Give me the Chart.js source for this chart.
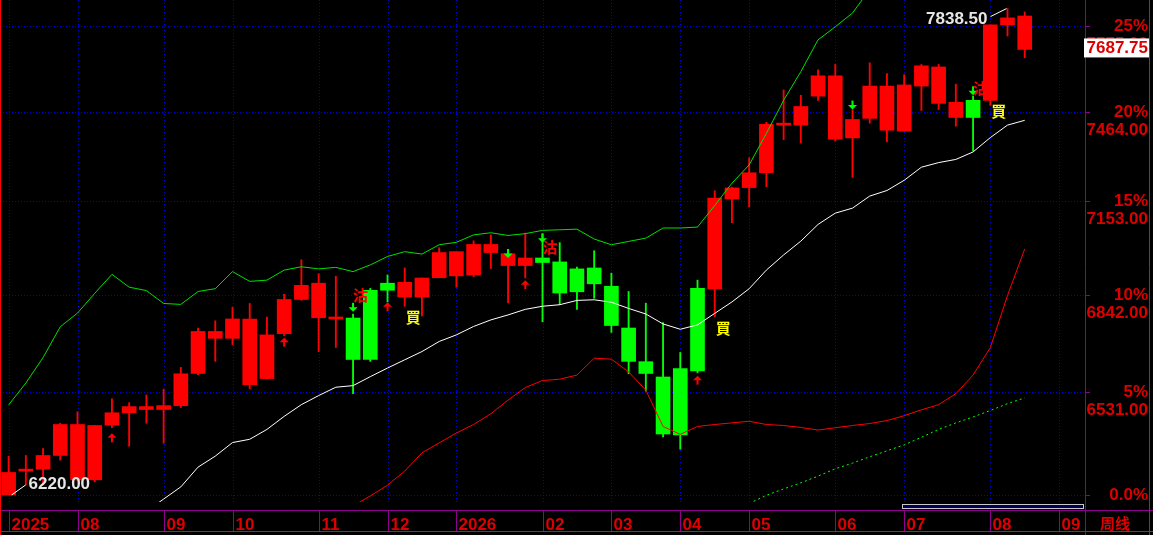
<!DOCTYPE html>
<html>
<head>
<meta charset="utf-8">
<script src="https://cdn.jsdelivr.net/npm/chart.js@4.4.1/dist/chart.umd.min.js"></script>
<style>
html,body{margin:0;padding:0;background:#000;overflow:hidden;}
#wrap{width:1153px;height:535px;}
</style>
</head>
<body>
<div id="wrap"><canvas id="kline" width="1153" height="535"></canvas></div>
<script>
// 周线 K 线 (60 根), 价格从图上读取
const opens  = [6220,6291,6297,6338,6265,6265,6430,6468,6478,6478,6490,6590,6701,6701,6555,6574,6716,6826,6767,6763,
                6766,6856,6879,6834,6834,6897,6903,6906,6980,6937,6937,6962,6949,6926,6929,6869,6734,6627,6579,6605,
                6862,6860,7160,7199,7250,7416,7416,7519,7367,7371,7440,7398,7395,7555,7493,7443,7504,7504,7778,7811];
const highs  = [6336,6338,6359,6436,6471,6429,6511,6499,6523,6541,6609,6734,6757,6801,6813,6769,6843,6956,6910,6902,
                6779,6862,6906,6929,6896,6996,6983,7019,7039,6976,7045,7043,7013,6932,6986,6912,6852,6814,6751,6656,
                6889,7188,7201,7302,7426,7541,7522,7614,7633,7471,7639,7600,7596,7633,7633,7562,7519,7778,7838.5,7826];
const lows   = [6220,6250,6250,6324,6262,6259,6422,6366,6436,6375,6484,6586,6628,6681,6542,6573,6709,6823,6659,6672,
                6527,6628,6818,6804,6773,6897,6866,6900,6927,6815,6896,6754,6809,6794,6830,6720,6589,6535,6394,6357,
                6592,6770,7080,7134,7202,7365,7353,7504,7360,7234,7423,7357,7395,7468,7471,7412,7326,7486,7737,7657];
const closes = [6287,6296,6338,6432,6432,6429,6468,6487,6487,6490,6589,6723,6723,6763,6763,6712,6826,6872,6879,6767,
                6634,6634,6856,6882,6896,6980,6983,7007,7007,6976,6962,6947,6847,6851,6877,6742,6628,6590,6403,6400,
                6598,7163,7198,7250,7419,7421,7482,7592,7592,7436,7555,7555,7559,7628,7624,7497,7443,7778,7804,7687.75];
// 多空状态: R 红 (多), G 绿 (空)
const trend  = ['R','R','R','R','R','R','R','R','R','R','R','R','R','R','R','R','R','R','R','R',
                'G','G','G','R','R','R','R','R','R','R','R','G','G','G','G','G','G','G','G','G',
                'G','R','R','R','R','R','R','R','R','R','R','R','R','R','R','R','G','R','R','R'];

// 通道线
const upperBand = [6492,6560,6640,6738,6782,6846,6908,6866,6855,6813,6810,6852,6861,6917,6885,6889,6922,6933,6926,6931,
                   6917,6939,6967,6983,6975,7006,7014,7039,7046,7037,7043,7054,7056,7058,7025,7006,7017,7028,7062,7062,
                   7065,7138,7214,7277,7387,7504,7607,7723,7771,7822,7910,null,null,null,null,null,null,null,null,null];
const midLine   = [null,null,null,null,null,null,null,null,6172,6208,6244,6303,6336,6377,6387,6417,6457,6493,6521,6547,
                   6552,6580,6607,6633,6659,6691,6712,6739,6760,6776,6794,6804,6809,6823,6825,6817,6797,6779,6747,6730,
                   6744,6781,6818,6861,6922,6972,7018,7074,7112,7129,7170,7189,7224,7269,7285,7296,7322,7372,7416,7433];
const lowerBand = [null,null,null,null,null,null,null,null,null,null,null,null,null,null,null,null,null,null,null,null,
                   6188,6217,6249,6291,6346,6376,6406,6432,6465,6507,6546,6568,6572,6585,6638,6635,6595,6538,6426,6402,
                   6426,6432,6437,6442,6432,6429,6423,6415,6422,6429,6435,6444,6459,6477,6493,6527,6585,6671,6839,6992];
const trendLine = [null,null,null,null,null,null,null,null,null,null,null,null,null,null,null,null,null,null,null,null,
                   null,null,null,null,null,null,null,null,null,null,null,null,null,null,null,null,null,null,null,null,
                   null,null,null,6195,6219,6238,6256,6276,6298,6315,6334,6352,6370,6393,6417,6437,6455,6475,6496,6514];

// 信号
const upArrowIdx     = [6,16,22,30,40];
const upArrowPrice   = [6405,6703,6817,6889,6583];
const downArrowIdx   = [20,29,31,49,56];
const downArrowPrice = [6786,6962,7013,7471,7522];
const sellIdx   = [20,31,56];
const sellPrice = [6840,6998,7546];
const buyIdx    = [23,41,57];
const buyPrice  = [6769,6733,7464];

// 坐标轴
const slotCount   = 63;
const months      = ['2025','08','09','10','11','12','2026','02','03','04','05','06','07','08','09'];
const monthStart  = [0,4,9,13,18,22,26,31,35,39,43,48,52,57,61];
const pctLabels   = ['0.0%','5%','10%','15%','20%','25%'];
const levelPrices = [6220,6531,6842,7153,7464,7775];
const yMin = 6199.3, yMax = 7870.6;

const RED = '#ff0000', GREEN = '#00ff00', LABEL_RED = '#dd0000', PURPLE = '#900090';
const numFont = 'bold 17px "Liberation Sans", Arial, sans-serif';
const cjkFont = 'bold 15px "Noto Sans CJK TC", "Noto Sans CJK SC", sans-serif';

var categories = [];
for (let i = 0; i < slotCount; i++) {
    let k = monthStart.indexOf(i);
    categories.push(k > -1 ? months[k] : '');
}
var candleColors = trend.map(t => t === 'R' ? RED : GREEN);

function upArrow(ctx, x, y, color){
    ctx.fillStyle = color;
    ctx.beginPath();
    ctx.moveTo(x, y);
    ctx.lineTo(x + 4.5, y + 4.5);
    ctx.lineTo(x - 4.5, y + 4.5);
    ctx.closePath();
    ctx.fill();
    ctx.fillRect(x - 1, y + 4, 2, 5);
}
function downArrow(ctx, x, y, color){
    ctx.fillStyle = color;
    ctx.beginPath();
    ctx.moveTo(x, y);
    ctx.lineTo(x + 4.5, y - 4.5);
    ctx.lineTo(x - 4.5, y - 4.5);
    ctx.closePath();
    ctx.fill();
    ctx.fillRect(x - 1, y - 9, 2, 5);
}

const decor = {
    id: 'decor',
    beforeDraw(chart){
        const ctx = chart.ctx;
        ctx.save();
        ctx.fillStyle = '#000';
        ctx.fillRect(0, 0, chart.width, chart.height);
        ctx.restore();
    },
    beforeDatasetsDraw(chart){
        const {ctx, chartArea: a} = chart;
        const x = chart.scales.x, y = chart.scales.y;
        ctx.save();
        ctx.strokeStyle = '#0000e0';
        ctx.lineWidth = 1;
        ctx.setLineDash([1, 2]);
        levelPrices.forEach(v => {
            let py = Math.round(y.getPixelForValue(v)) + 0.5;
            ctx.beginPath(); ctx.moveTo(a.left, py); ctx.lineTo(a.right, py); ctx.stroke();
        });
        monthStart.forEach(i => {
            let px = Math.round(x.getPixelForValue(i)) + 0.5;
            ctx.beginPath(); ctx.moveTo(px, a.top); ctx.lineTo(px, a.bottom); ctx.stroke();
        });
        ctx.restore();
    },
    afterDatasetsDraw(chart){
        const {ctx, chartArea: a} = chart;
        const x = chart.scales.x, y = chart.scales.y;
        ctx.save();
        ctx.beginPath(); ctx.rect(a.left, a.top, a.right - a.left, a.bottom - a.top); ctx.clip();

        // 箭头
        upArrowIdx.forEach((i, k) => upArrow(ctx, x.getPixelForValue(i), y.getPixelForValue(upArrowPrice[k]), RED));
        downArrowIdx.forEach((i, k) => downArrow(ctx, x.getPixelForValue(i), y.getPixelForValue(downArrowPrice[k]), GREEN));

        // 沽 / 買
        ctx.font = cjkFont;
        ctx.textAlign = 'left';
        ctx.textBaseline = 'middle';
        ctx.fillStyle = RED;
        sellIdx.forEach((i, k) => ctx.fillText('沽', x.getPixelForValue(i), y.getPixelForValue(sellPrice[k])));
        ctx.fillStyle = '#ffff00';
        buyIdx.forEach((i, k) => ctx.fillText('買', x.getPixelForValue(i) + 1, y.getPixelForValue(buyPrice[k])));

        // 最高 / 最低
        let lo = lows.indexOf(Math.min(...lows));
        let hi = highs.indexOf(Math.max(...highs));
        ctx.strokeStyle = '#ffffff';
        ctx.lineWidth = 1;
        ctx.font = numFont;
        ctx.fillStyle = '#e6e6e6';
        let lx = x.getPixelForValue(lo), ly = y.getPixelForValue(lows[lo]);
        ctx.beginPath(); ctx.moveTo(lx + 3, ly); ctx.lineTo(lx + 17, ly - 10); ctx.stroke();
        ctx.textAlign = 'left';
        ctx.fillText(lows[lo].toFixed(2), lx + 20, ly - 11);
        let hx = x.getPixelForValue(hi), hy = y.getPixelForValue(highs[hi]);
        ctx.beginPath(); ctx.moveTo(hx - 1, hy); ctx.lineTo(hx - 17, hy + 8); ctx.stroke();
        ctx.textAlign = 'right';
        ctx.fillText(highs[hi].toFixed(2), hx - 20, hy + 11);
        ctx.restore();
    },
    afterDraw(chart){
        const {ctx, chartArea: a, width, height} = chart;
        const x = chart.scales.x, y = chart.scales.y;
        ctx.save();
        ctx.lineWidth = 1;

        // 滚动条
        ctx.fillStyle = '#000050';
        ctx.fillRect(902.5, 504.5, 181, 4);
        ctx.strokeStyle = '#c8c8c8';
        ctx.strokeRect(902.5, 504.5, 181, 4);

        // 框线
        ctx.strokeStyle = PURPLE;
        ctx.beginPath(); ctx.moveTo(0, 510.5); ctx.lineTo(width, 510.5); ctx.stroke();
        ctx.beginPath(); ctx.moveTo(a.right + 0.5, 0); ctx.lineTo(a.right + 0.5, height); ctx.stroke();
        ctx.strokeStyle = RED;
        ctx.beginPath(); ctx.moveTo(0.5, 0); ctx.lineTo(0.5, height); ctx.stroke();
        ctx.beginPath(); ctx.moveTo(1149.5, 0); ctx.lineTo(1149.5, height); ctx.stroke();
        ctx.beginPath(); ctx.moveTo(0, 531.5); ctx.lineTo(width, 531.5); ctx.stroke();

        // 月份
        ctx.font = numFont;
        ctx.textAlign = 'left';
        ctx.textBaseline = 'alphabetic';
        monthStart.forEach((i, k) => {
            let px = Math.round(x.getPixelForValue(i)) + 0.5;
            ctx.strokeStyle = PURPLE;
            ctx.beginPath(); ctx.moveTo(px, 511); ctx.lineTo(px, 531); ctx.stroke();
            ctx.fillStyle = LABEL_RED;
            ctx.fillText(months[k], px + 2, 529.5);
        });
        ctx.font = 'bold 15px "Noto Sans CJK SC", sans-serif';
        ctx.fillStyle = LABEL_RED;
        ctx.fillText('周线', 1100, 529);

        // 右侧刻度
        ctx.textAlign = 'right';
        ctx.textBaseline = 'middle';
        ctx.font = numFont;
        levelPrices.forEach((v, k) => {
            let py = Math.round(y.getPixelForValue(v)) + 0.5;
            ctx.strokeStyle = PURPLE;
            ctx.beginPath(); ctx.moveTo(a.right, py); ctx.lineTo(a.right + 5, py); ctx.stroke();
            ctx.fillStyle = LABEL_RED;
            ctx.fillText(pctLabels[k], 1148, py);
            if (k > 0) ctx.fillText(v.toFixed(2), 1148, py + 18);
        });

        // 最新价
        let last = closes[closes.length - 1];
        let cy = y.getPixelForValue(last) - 1.5;
        ctx.fillStyle = '#ffffff';
        ctx.fillRect(1084, cy - 9.5, 65, 19);
        ctx.fillStyle = LABEL_RED;
        ctx.fillText(last.toFixed(2), 1148, cy + 0.5);
        ctx.restore();
    }
};

new Chart(document.getElementById('kline'), {
    type: 'bar',
    data: {
        labels: categories,
        datasets: [
            {type: 'line', data: upperBand, borderColor: '#00e000', borderWidth: 1, pointRadius: 0, tension: 0, order: 0},
            {type: 'line', data: midLine,   borderColor: '#ffffff', borderWidth: 1, pointRadius: 0, tension: 0, order: 0},
            {type: 'line', data: lowerBand, borderColor: '#ff0000', borderWidth: 1, pointRadius: 0, tension: 0, order: 0},
            {type: 'line', data: trendLine, borderColor: '#00ff00', borderWidth: 1, borderDash: [2, 3], pointRadius: 0, tension: 0, order: 0},
            {
                data: opens.map((o, i) => [o, closes[i]]),
                backgroundColor: candleColors,
                barThickness: 14,
                minBarLength: 2,
                grouped: false,
                order: 1
            },
            {
                data: lows.map((l, i) => [l, highs[i]]),
                backgroundColor: candleColors,
                barThickness: 1.2,
                grouped: false,
                order: 2
            }
        ]
    },
    options: {
        responsive: false,
        animation: false,
        events: [],
        layout: {padding: 0},
        plugins: {legend: {display: false}, tooltip: {enabled: false}},
        scales: {
            x: {
                type: 'category',
                offset: true,
                grid: {display: false},
                ticks: {display: false},
                border: {display: false},
                afterFit: s => { s.height = 33; }
            },
            y: {
                type: 'logarithmic',
                position: 'right',
                min: yMin,
                max: yMax,
                bounds: 'data',
                grid: {display: false},
                ticks: {display: false},
                border: {display: false},
                afterFit: s => { s.width = 68; }
            }
        }
    },
    plugins: [decor]
});
</script>
</body>
</html>
